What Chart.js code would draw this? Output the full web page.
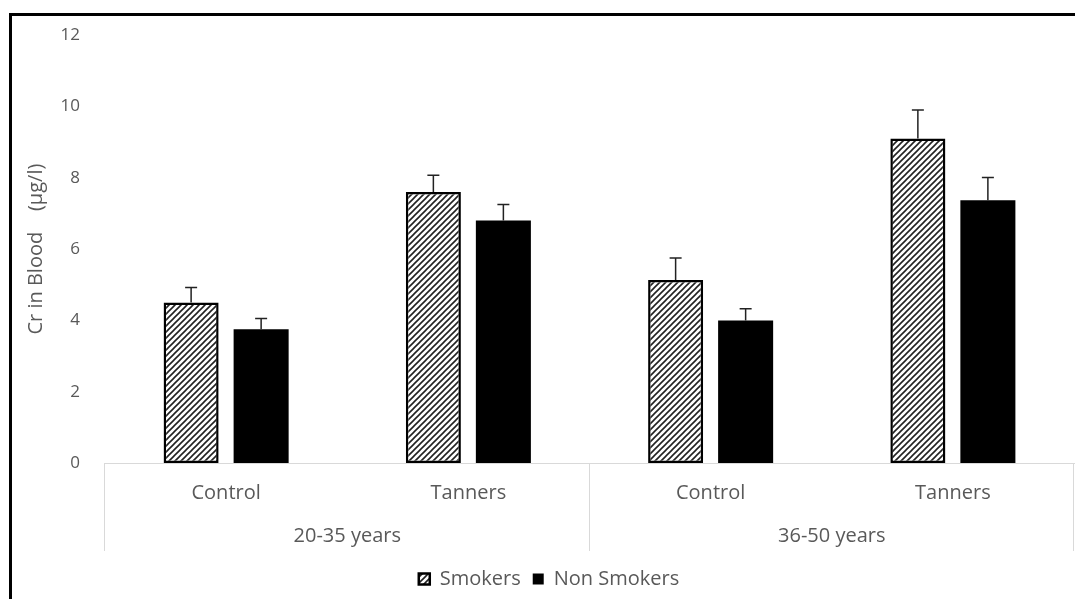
<!doctype html>
<html lang="en">
<head>
<meta charset="utf-8">
<title>Cr in Blood</title>
<style>
  html, body { margin: 0; padding: 0; background: #fff; }
  .wrap { position: relative; width: 1075px; height: 599px; overflow: hidden; }
  .frame {
    position: absolute; left: 9px; top: 13px; width: 1200px; height: 700px;
    border-left: 3px solid #000; border-top: 3px solid #000;
  }
  canvas { position: absolute; left: 0; top: 0; }
</style>
</head>
<body>
<div class="wrap">
  <div class="frame"></div>
  <canvas id="chart" width="1075" height="599"></canvas>
</div>
<script src="https://cdn.jsdelivr.net/npm/chart.js@4.4.4/dist/chart.umd.min.js"></script>
<script>
// Values.
const groups = ["20-35 years", "36-50 years"];
const categories = ["Control", "Tanners", "Control", "Tanners"];
const smokers = [4.5, 7.6, 5.13, 9.1];
const smokersErr = [0.42, 0.47, 0.62, 0.8];
const nonSmokers = [3.75, 6.8, 4.0, 7.37];
const nonSmokersErr = [0.3, 0.45, 0.33, 0.64];
const yMin = 0, yMax = 12, yStep = 2;

const TEXT = "#595959";
const FONT = "'Open Sans', Lato, sans-serif";

// Excel-like "wide upward diagonal" fill for the smokers bars.
function hatch() {
  const c = document.createElement("canvas");
  c.width = 6; c.height = 6;
  const g = c.getContext("2d");
  g.fillStyle = "#fff";
  g.fillRect(0, 0, 6, 6);
  g.strokeStyle = "#222";
  g.lineWidth = 1.6;
  g.beginPath();
  g.moveTo(-1, 7); g.lineTo(7, -1);
  g.moveTo(-4, 4); g.lineTo(4, -4);
  g.moveTo(2, 10); g.lineTo(10, 2);
  g.stroke();
  return g.createPattern(c, "repeat");
}

// Upper-only error bars, placed from the bar elements and the y scale.
const errorBars = {
  id: "errorBars",
  afterDatasetsDraw(chart) {
    const ctx = chart.ctx, y = chart.scales.y;
    chart.data.datasets.forEach((ds, d) => {
      const meta = chart.getDatasetMeta(d);
      meta.data.forEach((bar, i) => {
        const top = y.getPixelForValue(ds.data[i] + ds.err[i]);
        ctx.save();
        ctx.strokeStyle = "#222";
        ctx.lineWidth = 1.5;
        ctx.beginPath();
        ctx.moveTo(bar.x, bar.y);
        ctx.lineTo(bar.x, top);
        ctx.moveTo(bar.x - 6, top);
        ctx.lineTo(bar.x + 6, top);
        ctx.stroke();
        ctx.restore();
      });
    });
  },
};

// Group dividers under the axis line (left edge, between groups, right edge).
const groupLines = {
  id: "groupLines",
  afterDraw(chart) {
    const { ctx, chartArea } = chart;
    const x = chart.scales.x, x2 = chart.scales.x2;
    const per = categories.length / groups.length;
    const xs = [chartArea.left];
    for (let g = 1; g < groups.length; g++) {
      xs.push((x.getPixelForValue(g * per - 1) + x.getPixelForValue(g * per)) / 2);
    }
    xs.push(chartArea.right);
    ctx.save();
    ctx.strokeStyle = "#d9d9d9";
    ctx.lineWidth = 1;
    ctx.beginPath();
    for (const px of xs) {
      const p = Math.round(px) - 0.5;
      ctx.moveTo(p, chartArea.bottom);
      ctx.lineTo(p, x2.bottom - 6);
    }
    ctx.stroke();
    ctx.restore();
  },
};

new Chart(document.getElementById("chart"), {
  type: "bar",
  data: {
    labels: categories,
    datasets: [
      {
        label: "Smokers", data: smokers, err: smokersErr,
        backgroundColor: hatch(), borderColor: "#000", borderWidth: 2.5,
        borderSkipped: false,
      },
      {
        label: "Non Smokers", data: nonSmokers, err: nonSmokersErr,
        backgroundColor: "#000", borderColor: "#000", borderWidth: 0,
      },
    ],
  },
  options: {
    responsive: false,
    animation: false,
    categoryPercentage: 0.578,
    barPercentage: 0.786,
    layout: { padding: { left: 24, top: 32, right: 1, bottom: 0 } },
    scales: {
      y: {
        min: yMin, max: yMax,
        ticks: { stepSize: yStep, color: TEXT, padding: 25, font: { family: FONT, size: 17 } },
        grid: { display: false, drawTicks: false },
        border: { display: false },
        title: {
          display: true, text: "Cr in Blood    (µg/l)", color: TEXT,
          padding: 0, font: { family: FONT, size: 20 },
        },
        afterFit(s) { s.width = 81; },
      },
      x: {
        ticks: { color: TEXT, padding: 18, font: { family: FONT, size: 20 } },
        grid: { display: false, drawTicks: false },
        border: { display: true, color: "#d9d9d9", width: 1 },
        afterFit(s) { s.height = 50; },
      },
      x2: {
        type: "category", position: "bottom", labels: groups, offset: true,
        ticks: { color: TEXT, padding: 11, font: { family: FONT, size: 20 } },
        grid: { display: false, drawTicks: false },
        border: { display: false },
        afterFit(s) { s.height = 44; },
      },
    },
    plugins: {
      legend: {
        position: "bottom",
        labels: {
          color: TEXT, boxWidth: 11, boxHeight: 11, padding: 12,
          font: { family: FONT, size: 20 },
        },
      },
      tooltip: { enabled: false },
    },
  },
  plugins: [errorBars, groupLines],
});
</script>
</body>
</html>
